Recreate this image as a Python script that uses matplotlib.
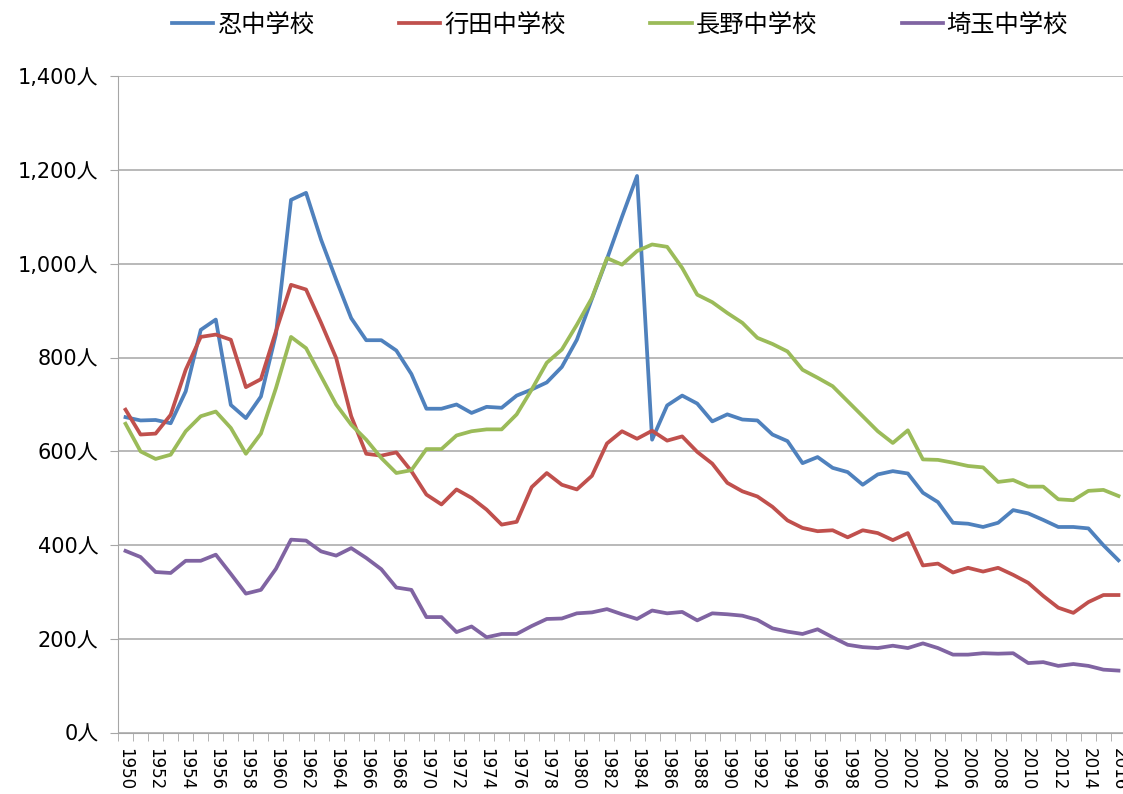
import matplotlib
matplotlib.use("Agg")
import matplotlib.pyplot as plt
from matplotlib.ticker import FuncFormatter, MultipleLocator, FixedLocator

plt.rcParams['font.family'] = ['DejaVu Sans', 'Noto Sans CJK JP']

years = list(range(1950, 2017))

oshi = [673, 666, 667, 660, 728, 859, 881, 699, 671, 717,
        850, 1136, 1151, 1051, 966, 884, 837, 837, 815, 765,
        691, 691, 700, 682, 695, 693, 719, 732, 747, 780,
        838, 925, 1010, 1100, 1187, 625, 698, 719, 702, 664,
        679, 668, 666, 636, 622, 575, 588, 565, 556, 529,
        551, 558, 553, 512, 492, 448, 446, 439, 448, 475,
        468, 454, 439, 439, 436, 400, 368]

gyoda = [689, 636, 638, 678, 774, 844, 849, 838, 737, 754,
         856, 955, 945, 874, 799, 675, 595, 591, 598, 558,
         508, 487, 519, 501, 476, 444, 450, 524, 554, 529,
         519, 548, 617, 643, 627, 644, 623, 632, 599, 574,
         533, 515, 504, 482, 453, 437, 430, 432, 417, 432,
         426, 411, 426, 357, 361, 342, 352, 344, 352, 337,
         320, 292, 267, 256, 279, 294, 294]

nagano = [659, 600, 584, 593, 643, 675, 685, 650, 595, 638,
          735, 844, 820, 760, 700, 657, 625, 586, 554, 560,
          605, 605, 634, 643, 647, 647, 679, 732, 789, 817,
          870, 927, 1012, 998, 1027, 1041, 1036, 991, 934, 918,
          895, 874, 842, 829, 813, 774, 757, 739, 707, 675,
          643, 618, 645, 583, 582, 576, 569, 566, 535, 539,
          525, 525, 498, 496, 516, 518, 505]

saitama = [388, 375, 343, 341, 367, 367, 380, 339, 297, 305,
           350, 412, 410, 387, 378, 394, 373, 349, 310, 305,
           247, 247, 215, 227, 204, 211, 211, 228, 243, 244,
           255, 257, 264, 253, 243, 261, 255, 258, 240, 255,
           253, 250, 241, 223, 216, 211, 221, 204, 188, 183,
           181, 186, 181, 191, 181, 167, 167, 170, 169, 170,
           149, 151, 143, 147, 143, 135, 133]

names = ["忍中学校", "行田中学校", "長野中学校", "埼玉中学校"]
colors = ["#4F81BD", "#C0504D", "#9BBB59", "#8064A2"]

fig = plt.figure(figsize=(11.23, 7.94), dpi=100)
ax = fig.add_axes([118 / 1123, 61 / 794, 1008 / 1123, 657 / 794])

for vals, name, c in zip([oshi, gyoda, nagano, saitama], names, colors):
    ax.plot(years, vals, color=c, lw=2.7, label=name)

ax.set_xlim(1949.5, 2016.5)
ax.set_ylim(0, 1400)
ax.yaxis.set_major_locator(MultipleLocator(200))
ax.yaxis.set_major_formatter(FuncFormatter(lambda v, p: "{:,}人".format(int(v))))
ax.grid(axis="y", color="#A6A6A6", lw=1.1)
ax.set_axisbelow(True)

# labels every 2 years, tick marks between categories
ax.xaxis.set_major_locator(FixedLocator(years[::2]))
ax.xaxis.set_minor_locator(FixedLocator([y - 0.5 for y in years] + [2016.5]))
ax.set_xticklabels([str(y) for y in years[::2]], rotation=-90, fontsize=12)
ax.tick_params(axis="x", which="major", length=0, pad=11)
ax.tick_params(axis="x", which="minor", length=6, color="#A6A6A6")
ax.tick_params(axis="y", length=6, color="#A6A6A6", labelsize=15, pad=8)

for s in ["top", "right"]:
    ax.spines[s].set_visible(False)
for s in ["left", "bottom"]:
    ax.spines[s].set_color("#A6A6A6")

fig.legend(loc="center", bbox_to_anchor=(620 / 1123, 1 - 25 / 794), ncol=4,
           frameon=False, handlelength=1.7, handletextpad=0.15, columnspacing=3.5,
           prop={"family": ["Noto Sans CJK JP"], "size": 17.5})

fig.savefig("out.png", dpi=100)
